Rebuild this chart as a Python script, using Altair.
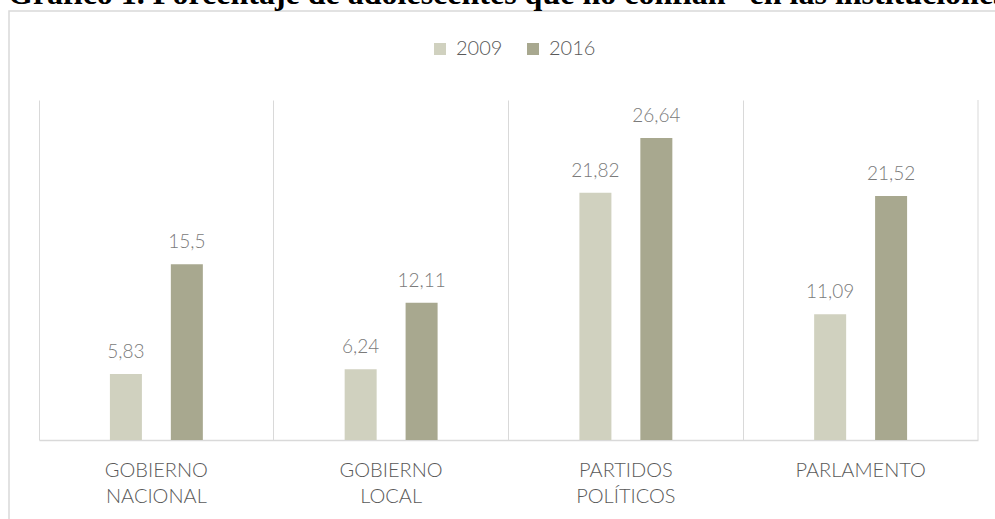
import altair as alt
import pandas as pd

categories = ["GOBIERNO NACIONAL", "GOBIERNO LOCAL", "PARTIDOS POLÍTICOS", "PARLAMENTO"]
years = ["2009", "2016"]
values_2009 = [5.83, 6.24, 21.82, 11.09]
values_2016 = [15.5, 12.11, 26.64, 21.52]
title_text = "Gráfico 1. Porcentaje de adolescentes que no confían* en las instituciones"

rows = []
for c, a, b in zip(categories, values_2009, values_2016):
    rows.append({"cat": c, "year": "2009", "value": a})
    rows.append({"cat": c, "year": "2016", "value": b})
df = pd.DataFrame(rows)

W, H = 939, 340
GRID = "#d9d9d9"
FONT = "Lato"

x = alt.X("cat:N", sort=categories, title=None,
          scale=alt.Scale(paddingInner=0, paddingOuter=0),
          axis=alt.Axis(labelAngle=0, bandPosition=0, grid=True, gridColor=GRID,
                        gridWidth=1, ticks=False, domainColor=GRID, domainWidth=1.5,
                        labelFont=FONT, labelFontSize=20, labelColor="#595959",
                        labelPadding=20, labelBaseline="top", labelLineHeight=26,
                        labelExpr="split(datum.label, ' ')", labelFontWeight=300))
xo = alt.XOffset("year:N", sort=years,
                 scale=alt.Scale(paddingInner=0.148, paddingOuter=1))
y = alt.Y("value:Q", scale=alt.Scale(domain=[0, 30]), axis=None)

base = alt.Chart(df).encode(x=x, xOffset=xo, y=y)

bars = base.mark_bar(width=32).encode(
    color=alt.Color("year:N", sort=years,
                    scale=alt.Scale(domain=years, range=["#d0d1bf", "#a8a88f"]),
                    legend=alt.Legend(title=None, orient="none", direction="horizontal",
                                      legendX=391, legendY=-61, symbolType="square",
                                      symbolSize=144, symbolStrokeWidth=0,
                                      labelFont=FONT, labelFontSize=20,
                                      labelFontWeight=300,
                                      labelColor="#595959", columnPadding=20,
                                      labelOffset=6))
)

labels = base.mark_text(baseline="alphabetic", dy=-16, font=FONT, fontSize=19,
                        color="#7a7a7a", fontWeight=300).transform_calculate(
    lab="replace(toString(datum.value), '.', ',')"
).encode(text="lab:N")

right_line = alt.Chart(pd.DataFrame({"v": [0]})).mark_rule(color=GRID).encode(
    x=alt.value(W), y=alt.value(0), y2=alt.value(H))

frame = alt.Chart(pd.DataFrame({"v": [0]})).mark_rect(
    fill=None, stroke=GRID, strokeWidth=1.5).encode(
    x=alt.value(-30), x2=alt.value(1200), y=alt.value(-89), y2=alt.value(700))

title = alt.Chart(pd.DataFrame({"t": [title_text]})).mark_text(
    align="left", baseline="alphabetic", font="Liberation Serif", fontSize=32,
    fontWeight="bold", color="#000000").encode(
    text="t:N", x=alt.value(-31), y=alt.value(-96))

chart = alt.layer(frame, right_line, bars, labels, title).properties(
    width=W, height=H,
    padding={"left": 39, "top": 100, "right": 17, "bottom": 79},
    autosize=alt.AutoSizeParams(type="none"),
).configure_view(stroke=None)

chart.save("out.html", embed_options={"renderer": "svg", "actions": False})
